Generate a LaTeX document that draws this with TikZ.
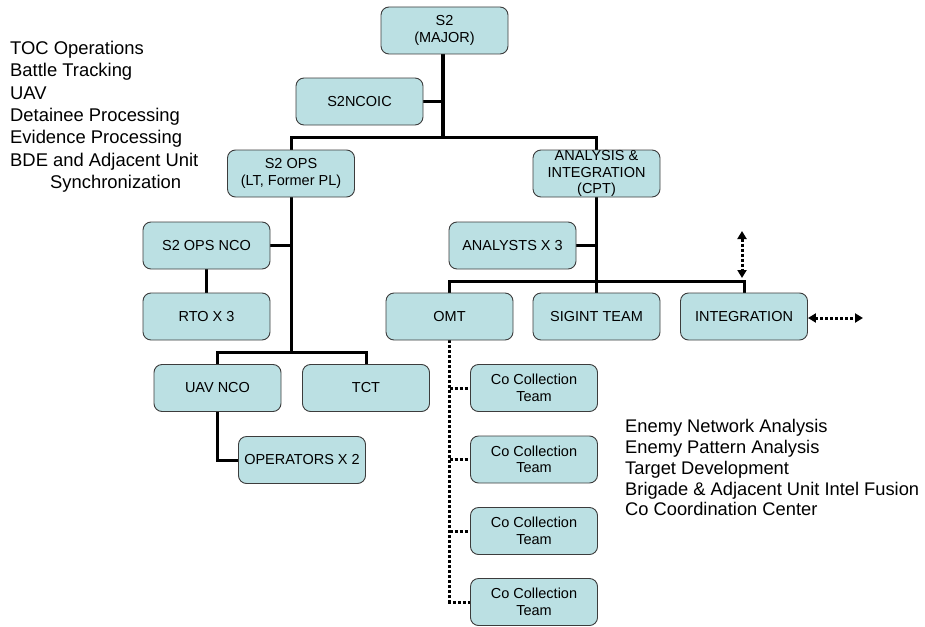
\documentclass[tikz,border=0pt]{standalone}
\usepackage{fontspec}
\setmainfont{Liberation Sans}
\usetikzlibrary{arrows.meta,calc}
\pgfdeclarelayer{bg}
\pgfsetlayers{bg,main}
\definecolor{boxfill}{RGB}{187,224,227}
\definecolor{boxline}{RGB}{60,60,60}
\tikzset{
  orgbox/.style={draw=boxline, line width=0.9pt, fill=boxfill, rounded corners=8pt,
    minimum width=127pt, minimum height=47pt, inner sep=0pt, align=center,
    font=\fontsize{14.5}{16.5}\selectfont},
  conn/.style={line width=3pt, line cap=rect},
  trunk/.style={line width=4pt},
  dotline/.style={line width=3pt, dash pattern=on 3pt off 2pt},
  dtip/.style={arrows={Triangle[length=8pt,width=9pt]-Triangle[length=8pt,width=9pt]}},
  sidetext/.style={anchor=north west, inner sep=0pt, align=left}
}
\begin{document}
\begin{tikzpicture}[x=1pt,y=-1pt]
\useasboundingbox (0,0) rectangle (925,626);
% nodes
\node[orgbox] (s2) at (444.5,30.5) {S2\\(MAJOR)};
\node[orgbox] (ncoic) at (359.5,101.5) {S2NCOIC};
\node[orgbox] (ops) at (291,173.5) {S2 OPS\\(LT, Former PL)};
\node[orgbox] (ana) at (596.5,173.5) {ANALYSIS \&\\INTEGRATION\\(CPT)};
\node[orgbox] (opsnco) at (206.5,245.5) {S2 OPS NCO};
\node[orgbox] (rto) at (206.5,316.5) {RTO X 3};
\node[orgbox] (uav) at (217.5,388) {UAV NCO};
\node[orgbox] (tct) at (366,388) {TCT};
\node[orgbox] (oper) at (302,460) {OPERATORS X 2};
\node[orgbox] (analysts) at (512.5,245.5) {ANALYSTS X 3};
\node[orgbox] (omt) at (449.5,316.5) {OMT};
\node[orgbox] (sigint) at (596.5,316.5) {SIGINT TEAM};
\node[orgbox] (integ) at (744,316.5) {INTEGRATION};
\node[orgbox] (cc1) at (534,388) {Co Collection\\Team};
\node[orgbox] (cc2) at (534,459.5) {Co Collection\\Team};
\node[orgbox] (cc3) at (534,531) {Co Collection\\Team};
\node[orgbox] (cc4) at (534,602) {Co Collection\\Team};
% junctions
\coordinate (j1) at (443,137);
\coordinate (j2) at (291,352);
\coordinate (j3) at (596.5,281);
\coordinate (vt) at (742,231);
\coordinate (vb) at (742,278);
\coordinate (he) at (863,318);
% connectors (behind the boxes)
\begin{pgfonlayer}{bg}
\draw[trunk] (s2.south -| j1) -- (j1);
\draw[conn] (ncoic.east) -- (ncoic.east -| j1);
\draw[conn] (ops.north) |- (j1) -| (ana.north);
\draw[conn] (ops.south) -- (j2);
\draw[conn] (opsnco.east) -- (opsnco.east -| ops.south);
\draw[conn] (opsnco.south) -- (rto.north);
\draw[conn] (uav.north) |- (j2) -| (tct.north);
\draw[conn] (uav.south) |- (oper.west);
\draw[conn] (ana.south) -- (sigint.north);
\draw[conn] (analysts.east) -- (analysts.east -| ana.south);
\draw[conn] (omt.north) |- (j3) -| (integ.north);
\draw[dotline] (omt.south) |- (cc4.west);
\draw[dotline] (omt.south |- cc1.west) -- (cc1.west);
\draw[dotline] (omt.south |- cc2.west) -- (cc2.west);
\draw[dotline] (omt.south |- cc3.west) -- (cc3.west);
\end{pgfonlayer}
\draw[dotline,dtip] (vt) -- (vb);
\draw[dotline,dtip] (integ.east |- he) -- (he);
% side texts
\node[sidetext, font=\fontsize{18.4}{22.3}\selectfont] (lefttext) at (10,41) {TOC Operations\\Battle Tracking\\UAV\\Detainee Processing\\Evidence Processing\\BDE and Adjacent Unit\\\hspace*{40pt}Synchronization};
\node[sidetext, font=\fontsize{18.3}{20.75}\selectfont] (righttext) at (625,419.5) {Enemy Network Analysis\\Enemy Pattern Analysis\\Target Development\\Brigade \& Adjacent Unit Intel Fusion\\Co Coordination Center};
\end{tikzpicture}
\end{document}
